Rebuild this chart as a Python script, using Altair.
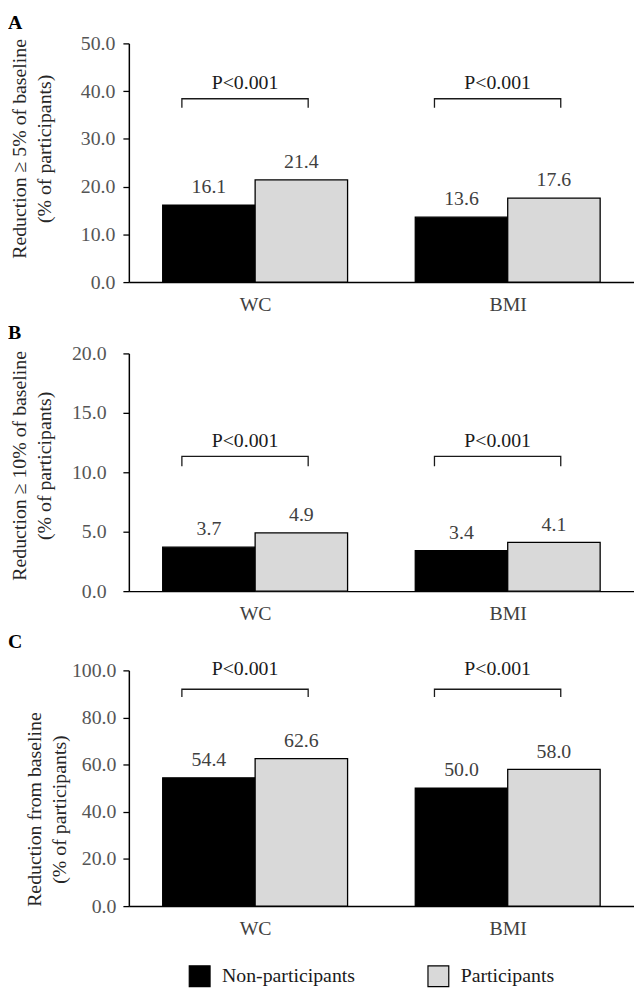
import altair as alt
import pandas as pd

# ---------------- data ----------------
categories = ["WC", "BMI"]
groups = ["Non-participants", "Participants"]

a_non = [16.1, 13.6]
a_par = [21.4, 17.6]
b_non = [3.7, 3.4]
b_par = [4.9, 4.1]
c_non = [54.4, 50.0]
c_par = [62.6, 58.0]

p_labels = ["P<0.001", "P<0.001"]

letters = ["A", "B", "C"]
y_titles = [
    ["Reduction \u2265 5% of baseline", "(% of participants)"],
    ["Reduction \u2265 10% of baseline", "(% of participants)"],
    ["Reduction from baseline", "(% of participants)"],
]
ticks_a = [0, 10, 20, 30, 40, 50]
ticks_b = [0, 5, 10, 15, 20]
ticks_c = [0, 20, 40, 60, 80, 100]

# ---------------- style ----------------
FONT = "Liberation Serif"
BAR_W = 0.366             # bar width in category units
BR_L, BR_R = -0.29, 0.21  # bracket ends relative to category centre
GREY = "#d9d9d9"
PLOT_W = 510
DX = -122

styles = [
    dict(h=241, ymax=50, ticks=ticks_a, br_top=38.4, br_bot=36.5, p_y=41.7,
         labpad=8, titleX=-100, titleY=106, toff=1),
    dict(h=240, ymax=20, ticks=ticks_b, br_top=11.33, br_bot=10.5, p_y=12.6,
         labpad=17, titleX=-100, titleY=113, toff=1),
    dict(h=238, ymax=100, ticks=ticks_c, br_top=92.0, br_bot=88.7, p_y=100.4,
         labpad=7, titleX=-85, titleY=140, toff=8),
]


def panel(idx, non, par):
    st = styles[idx]
    rows = []
    for i, c in enumerate(categories):
        ctr = i + 0.5
        rows.append(dict(cat=c, group=groups[0], value=non[i], x0=ctr - BAR_W, x1=ctr))
        rows.append(dict(cat=c, group=groups[1], value=par[i], x0=ctr, x1=ctr + BAR_W))
    df = pd.DataFrame(rows)
    df["xm"] = (df["x0"] + df["x1"]) / 2
    df["base"] = 0.0

    brows, prows = [], []
    for i, c in enumerate(categories):
        ctr = i + 0.5
        xl, xr = ctr + BR_L, ctr + BR_R
        pts = [(xl, st["br_bot"]), (xl, st["br_top"]), (xr, st["br_top"]), (xr, st["br_bot"])]
        for k, (px, py) in enumerate(pts):
            brows.append(dict(cat=c, ord=k, x=px, y=py))
        prows.append(dict(cat=c, x=(xl + xr) / 2, y=st["p_y"], label=p_labels[i]))
    bdf = pd.DataFrame(brows)
    pdf = pd.DataFrame(prows)

    xscale = alt.Scale(domain=[0, len(categories)], nice=False, zero=False)
    yscale = alt.Scale(domain=[0, st["ymax"]], nice=False)
    label_expr = "[" + ",".join("'%s'" % c for c in categories) + "][floor(datum.value)]"

    xaxis = alt.Axis(values=[i + 0.5 for i in range(len(categories))], labelExpr=label_expr,
                     ticks=False, grid=False, title=None, domainColor="black", domainWidth=1.5,
                     labelFont=FONT, labelFontSize=20, labelColor="#404040", labelPadding=13)
    yaxis = alt.Axis(values=st["ticks"], format=".1f", grid=False, title=y_titles[idx],
                     domainColor="black", domainWidth=1.5, tickColor="black", tickWidth=1.3,
                     tickSize=6, labelFont=FONT, labelFontSize=20, labelColor="#555555",
                     labelPadding=st["labpad"], titleFont=FONT, titleFontSize=20,
                     titleFontWeight="normal", titleColor="#262626", titleLineHeight=25,
                     titleAngle=270, titleBaseline="bottom", titleAlign="center",
                     titleX=st["titleX"], titleY=st["titleY"])

    bars = alt.Chart(df).mark_rect(stroke="black", strokeWidth=1.3).encode(
        x=alt.X("x0:Q", scale=xscale, axis=xaxis),
        x2="x1:Q",
        y=alt.Y("value:Q", scale=yscale, axis=yaxis),
        y2="base:Q",
        color=alt.Color("group:N", scale=alt.Scale(domain=groups, range=["#000000", GREY]),
                        legend=alt.Legend(title=None, orient="none", direction="horizontal",
                                          legendX=60, legendY=930,
                                          symbolType="square",
                                          symbolSize=441, symbolStrokeColor="black",
                                          symbolStrokeWidth=1.2, labelFont=FONT,
                                          labelFontSize=20, labelColor="#1a1a1a",
                                          labelOffset=11, columnPadding=70, padding=0)),
    )
    vals = alt.Chart(df).mark_text(font=FONT, fontSize=20, color="#404040",
                                   baseline="middle", dy=-18).encode(
        x="xm:Q", y="value:Q", text=alt.Text("value:Q", format=".1f"))
    brackets = alt.Chart(bdf).mark_line(color="#1a1a1a", strokeWidth=1.3).encode(
        x="x:Q", y="y:Q", detail="cat:N", order="ord:Q")
    ptext = alt.Chart(pdf).mark_text(font=FONT, fontSize=20, color="#1a1a1a",
                                     baseline="middle").encode(
        x="x:Q", y="y:Q", text="label:N")

    return alt.layer(bars, vals, brackets, ptext).properties(
        width=PLOT_W, height=st["h"],
        title=alt.TitleParams(text=letters[idx], anchor="start", frame="group", dx=DX,
                              font=FONT, fontSize=20, fontWeight="bold", color="black",
                              baseline="top", offset=st["toff"]),
    )


chart = alt.vconcat(panel(0, a_non, a_par), panel(1, b_non, b_par), panel(2, c_non, c_par),
                    spacing=8).properties(padding=0).configure_view(stroke=None)

chart.save("out.html", embed_options={"renderer": "svg", "actions": False})
